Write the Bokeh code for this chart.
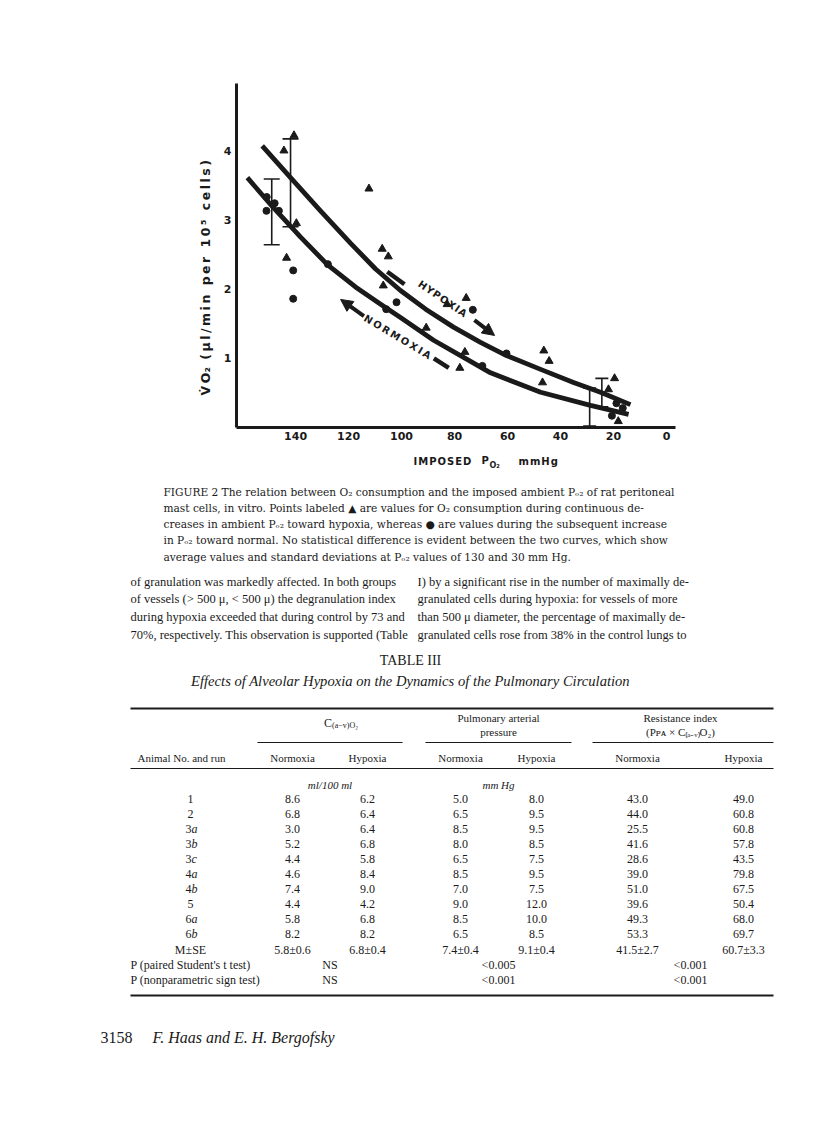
import math
from bokeh.plotting import figure
from bokeh.layouts import column, row
from bokeh.models import Range1d, FixedTicker, Arrow, NormalHead, Whisker, TeeHead, ColumnDataSource
from bokeh.core.properties import value
from bokeh.embed import file_html
from bokeh.resources import INLINE

# ---------------- chart data ----------------
# triangles: O2 consumption during decreasing PO2 (hypoxia)
hyp_po2 = [144.4, 140.6, 139.7, 143.4, 112.3, 107.3, 105.0, 106.9, 90.7, 82.8, 75.6, 76.1, 78.0,
           46.3, 44.3, 46.8, 19.6, 21.9, 18.2]
hyp_vo2 = [4.00, 4.22, 2.95, 2.45, 3.45, 2.58, 2.47, 2.05, 1.44, 1.78, 1.87, 1.09, 0.86,
           1.11, 0.96, 0.65, 0.71, 0.55, 0.09]
# circles: values during the subsequent increase (normoxia)
norm_po2 = [150.9, 147.9, 151.0, 146.3, 140.9, 140.9, 127.8, 105.8, 101.9, 73.1, 69.5, 60.4,
            18.9, 16.5, 20.6]
norm_vo2 = [3.33, 3.24, 3.13, 3.13, 2.27, 1.86, 2.36, 1.71, 1.81, 1.70, 0.89, 1.07,
            0.35, 0.28, 0.17]
# fitted curves as drawn
hyp_curve_po2 = [152.6, 141.9, 130.6, 119.2, 109.8, 100.4, 90.9, 80.4, 70.2, 60.4, 47.5, 35.1, 24.9, 13.6]
hyp_curve_vo2 = [4.07, 3.61, 3.13, 2.66, 2.29, 1.98, 1.71, 1.45, 1.23, 1.04, 0.84, 0.65, 0.51, 0.33]
norm_curve_po2 = [158.2, 148.7, 138.1, 127.9, 117.4, 107.9, 100.4, 87.9, 75.1, 66.4, 47.5, 28.7, 14.3]
norm_curve_vo2 = [3.61, 3.19, 2.75, 2.35, 2.03, 1.78, 1.59, 1.26, 0.98, 0.79, 0.51, 0.32, 0.19]
# standard deviation bars
err_po2_hi = [149.0, 141.9]
err_lo_hi = [2.64, 2.90]
err_up_hi = [3.59, 4.17]
err_po2_lo = [29.0, 24.4]
err_lo_lo = [0.02, 0.30]
err_up_lo = [0.57, 0.71]
x_ticks = [140, 120, 100, 80, 60, 40, 20, 0]
y_ticks = [1, 2, 3, 4]

# ---------------- table data ----------------
animal_runs = ["1", "2", "3a", "3b", "3c", "4a", "4b", "5", "6a", "6b"]
cav_norm = [8.6, 6.8, 3.0, 5.2, 4.4, 4.6, 7.4, 4.4, 5.8, 8.2]
cav_hyp = [6.2, 6.4, 6.4, 6.8, 5.8, 8.4, 9.0, 4.2, 6.8, 8.2]
ppa_norm = [5.0, 6.5, 8.5, 8.0, 6.5, 8.5, 7.0, 9.0, 8.5, 6.5]
ppa_hyp = [8.0, 9.5, 9.5, 8.5, 7.5, 9.5, 7.5, 12.0, 10.0, 8.5]
res_norm = [43.0, 44.0, 25.5, 41.6, 28.6, 39.0, 51.0, 39.6, 49.3, 53.3]
res_hyp = [49.0, 60.8, 60.8, 57.8, 43.5, 79.8, 67.5, 50.4, 68.0, 69.7]
mean_se = ["5.8\u00b10.6", "6.8\u00b10.4", "7.4\u00b10.4", "9.1\u00b10.4", "41.5\u00b12.7", "60.7\u00b13.3"]
p_paired = ["NS", "<0.005", "<0.001"]
p_sign = ["NS", "<0.001", "<0.001"]

INK = "#1a1a1a"
SANS = "DejaVu Sans"
SERIF = "Liberation Serif"
SERIF2 = "DejaVu Serif"


def blank(w, h, x0, x1, ytop, ybot):
    f = figure(width=w, height=h, x_range=Range1d(x0, x1), y_range=Range1d(ybot, ytop),
               output_backend="svg", toolbar_location=None,
               x_axis_location=None, y_axis_location=None, min_border=0)
    f.grid.visible = False
    f.outline_line_color = None
    return f


def T(f, x, y, s, size=12, font=SERIF, style="normal", align="left", angle=0.0):
    f.text(x=[x], y=[y], text=[s], text_font=value(font), text_font_size=f"{size}px",
           text_font_style=style, text_align=align, text_baseline="middle",
           angle=angle, text_color=INK)


def spaced(s, sp="\u2009"):
    return sp.join(list(s))


# ---------------- left strip with the y label ----------------
ylab = blank(216, 448, 0, 216, 0, 448)
T(ylab, 205, 253,
  "V\u0307\u2009O\u2082\u2009\u2009\u2009" + spaced("(\u03bcl/min per 10\u2075 cells)"),
  size=12.5, font=SANS, style="bold", align="center", angle=math.pi / 2)

# ---------------- chart ----------------
chart = figure(width=584, height=448, x_range=Range1d(162.3, -3.4), y_range=Range1d(0, 4.97),
               output_backend="svg", toolbar_location=None,
               min_border_left=20, min_border_right=125, min_border_top=83, min_border_bottom=21)
chart.outline_line_color = None
chart.grid.visible = False
chart.xaxis.ticker = FixedTicker(ticks=x_ticks)
chart.yaxis.ticker = FixedTicker(ticks=y_ticks)
for ax in (chart.xaxis[0], chart.yaxis[0]):
    ax.axis_line_width = 3
    ax.axis_line_color = INK
    ax.major_tick_line_color = None
    ax.minor_tick_line_color = None
    ax.major_tick_out = 0
    ax.major_tick_in = 0
    ax.major_label_text_font = SANS
    ax.major_label_text_font_style = "bold"
    ax.major_label_text_font_size = "11px"
    ax.major_label_text_color = INK
chart.xaxis.major_label_standoff = 4
chart.yaxis.major_label_standoff = 5

chart.line(hyp_curve_po2, hyp_curve_vo2, line_width=4.8, line_color=INK, line_join="round")
chart.line(norm_curve_po2, norm_curve_vo2, line_width=4.8, line_color=INK, line_join="round")
chart.scatter(hyp_po2, hyp_vo2, marker="triangle", size=8, color=INK)
chart.scatter(norm_po2, norm_vo2, marker="circle", size=7, color=INK)

for base, lo, up, cap in ((err_po2_hi, err_lo_hi, err_up_hi, 16), (err_po2_lo, err_lo_lo, err_up_lo, 13)):
    src = ColumnDataSource(dict(base=base, lower=lo, upper=up))
    chart.add_layout(Whisker(source=src, base="base", lower="lower", upper="upper", dimension="height",
                             line_width=1.6, line_color=INK,
                             upper_head=TeeHead(size=cap, line_width=1.6, line_color=INK),
                             lower_head=TeeHead(size=cap, line_width=1.6, line_color=INK)))

# curve labels, dashes and direction arrows
T(chart, 84.5, 1.86, spaced("HYPOXIA", "\u200a"), size=10, font=SANS, style="bold", align="center", angle=-0.60)
T(chart, 101.5, 1.31, spaced("NORMOXIA"), size=10, font=SANS, style="bold", align="center", angle=-0.54)
chart.segment(x0=[105.4, 87.8], y0=[2.25, 1.00], x1=[98.9, 82.2], y1=[2.07, 0.86],
              line_width=4.5, line_color=INK)
chart.add_layout(Arrow(end=NormalHead(size=12, fill_color=INK, line_color=INK),
                       x_start=72.5, y_start=1.55, x_end=64.9, y_end=1.33,
                       line_width=4, line_color=INK))
chart.add_layout(Arrow(end=NormalHead(size=12, fill_color=INK, line_color=INK),
                       x_start=114.2, y_start=1.61, x_end=123.0, y_end=1.85,
                       line_width=4, line_color=INK))

# ---------------- lower page (caption, text, table) ----------------
pg = blank(800, 673, 0, 800, 448, 1121)

# x-axis title of the chart
T(pg, 413, 461, spaced("IMPOSED", "\u200a"), size=10, font=SANS, style="bold")
T(pg, 481, 460, "P", size=10, font=SANS, style="bold")
T(pg, 489, 465, "O\u2082", size=8, font=SANS, style="bold")
T(pg, 518, 461, spaced("mmHg", "\u200a"), size=10, font=SANS, style="bold")

caption = [
    "FIGURE 2  The relation between O\u2082 consumption and the imposed ambient P\u2092\u2082 of rat peritoneal",
    "mast cells, in vitro. Points labeled \u25b2 are values for O\u2082 consumption during continuous de-",
    "creases in ambient P\u2092\u2082 toward hypoxia, whereas \u25cf are values during the subsequent increase",
    "in P\u2092\u2082 toward normal. No statistical difference is evident between the two curves, which show",
    "average values and standard deviations at P\u2092\u2082 values of 130 and 30 mm Hg.",
]
for i, s in enumerate(caption):
    T(pg, 163, 491 + i * 16.3, s, size=10.6, font=SERIF2)

left_col = [
    "of granulation was markedly affected. In both groups",
    "of vessels (> 500 \u03bc, < 500 \u03bc) the degranulation index",
    "during hypoxia exceeded that during control by 73 and",
    "70%, respectively. This observation is supported (Table",
]
right_col = [
    "I) by a significant rise in the number of maximally de-",
    "granulated cells during hypoxia: for vessels of more",
    "than 500 \u03bc diameter, the percentage of maximally de-",
    "granulated cells rose from 38% in the control lungs to",
]
for i, s in enumerate(left_col):
    T(pg, 130, 581 + i * 17.7, s, size=12.5)
for i, s in enumerate(right_col):
    T(pg, 417, 581 + i * 17.7, s, size=12.5)

T(pg, 410, 660, "TABLE III", size=14, align="center")
T(pg, 410, 680, "Effects of Alveolar Hypoxia on the Dynamics of the Pulmonary Circulation",
  size=14.6, style="italic", align="center")

TL, TR = 130, 773
LAB, CN, CH, PN, PH, RN, RH = 190, 292, 367, 460, 536, 637, 743
pg.segment(x0=[TL, TL], y0=[708, 995], x1=[TR, TR], y1=[708, 995], line_width=1.8, line_color=INK)
pg.segment(x0=[TL], y0=[768], x1=[TR], y1=[768], line_width=1.0, line_color=INK)
pg.segment(x0=[CN - 35, PN - 35, RN - 45], y0=[742] * 3, x1=[CH + 35, PH + 35, TR], y1=[742] * 3,
           line_width=1.0, line_color=INK)

cc, pc, rc = (CN + CH) / 2, (PN + PH) / 2, (RN + RH) / 2
T(pg, cc + 2, 722, "C", size=12, align="right")
T(pg, cc + 2, 725, "(a\u2212v)O\u2082", size=8, align="left")
T(pg, pc, 717, "Pulmonary arterial", size=11, align="center")
T(pg, pc, 731, "pressure", size=11, align="center")
T(pg, rc - 10, 717, "Resistance index", size=11, align="center")
T(pg, rc - 10, 731, "(P\u1d18\u1d00 \u00d7 C\u208d\u2090\u208b\u1d65\u208eO\u2082)", size=11, align="center")
T(pg, 137, 757, "Animal No. and run", size=11)
for x, s in ((CN, "Normoxia"), (CH, "Hypoxia"), (PN, "Normoxia"), (PH, "Hypoxia"),
             (RN, "Normoxia"), (RH, "Hypoxia")):
    T(pg, x, 757, s, size=11, align="center")
T(pg, cc, 784, "ml/100 ml", size=11, style="italic", align="center")
T(pg, pc, 784, "mm Hg", size=11, style="italic", align="center")

for i, lab in enumerate(animal_runs):
    y = 798 + i * 15.1
    if len(lab) > 1:
        T(pg, LAB + 1, y, lab[:-1], size=12, align="right")
        T(pg, LAB + 1, y, lab[-1], size=12, style="italic", align="left")
    else:
        T(pg, LAB, y, lab, size=12, align="center")
    for x, arr in ((CN, cav_norm), (CH, cav_hyp), (PN, ppa_norm), (PH, ppa_hyp), (RN, res_norm), (RH, res_hyp)):
        T(pg, x, y, f"{arr[i]:.1f}", size=12, align="center")

ym = 798 + 10 * 15.1
T(pg, LAB, ym, "M\u00b1SE", size=12, align="center")
for x, s in zip((CN, CH, PN, PH, RN, RH), mean_se):
    T(pg, x, ym, s, size=12, align="center")
T(pg, TL, ym + 15.3, "P (paired Student's t test)", size=12)
T(pg, TL, ym + 30.6, "P (nonparametric sign test)", size=12)
for x, a, b in zip((cc, pc, rc), p_paired, p_sign):
    T(pg, x, ym + 15.3, a, size=12, align="center")
    T(pg, x, ym + 30.6, b, size=12, align="center")

T(pg, 100, 1037, "3158", size=16)
T(pg, 152, 1037, "F. Haas and E. H. Bergofsky", size=16, style="italic")

layout = column(row(ylab, chart, spacing=0), pg, spacing=0)
open("out.html", "w").write(file_html(layout, INLINE))
